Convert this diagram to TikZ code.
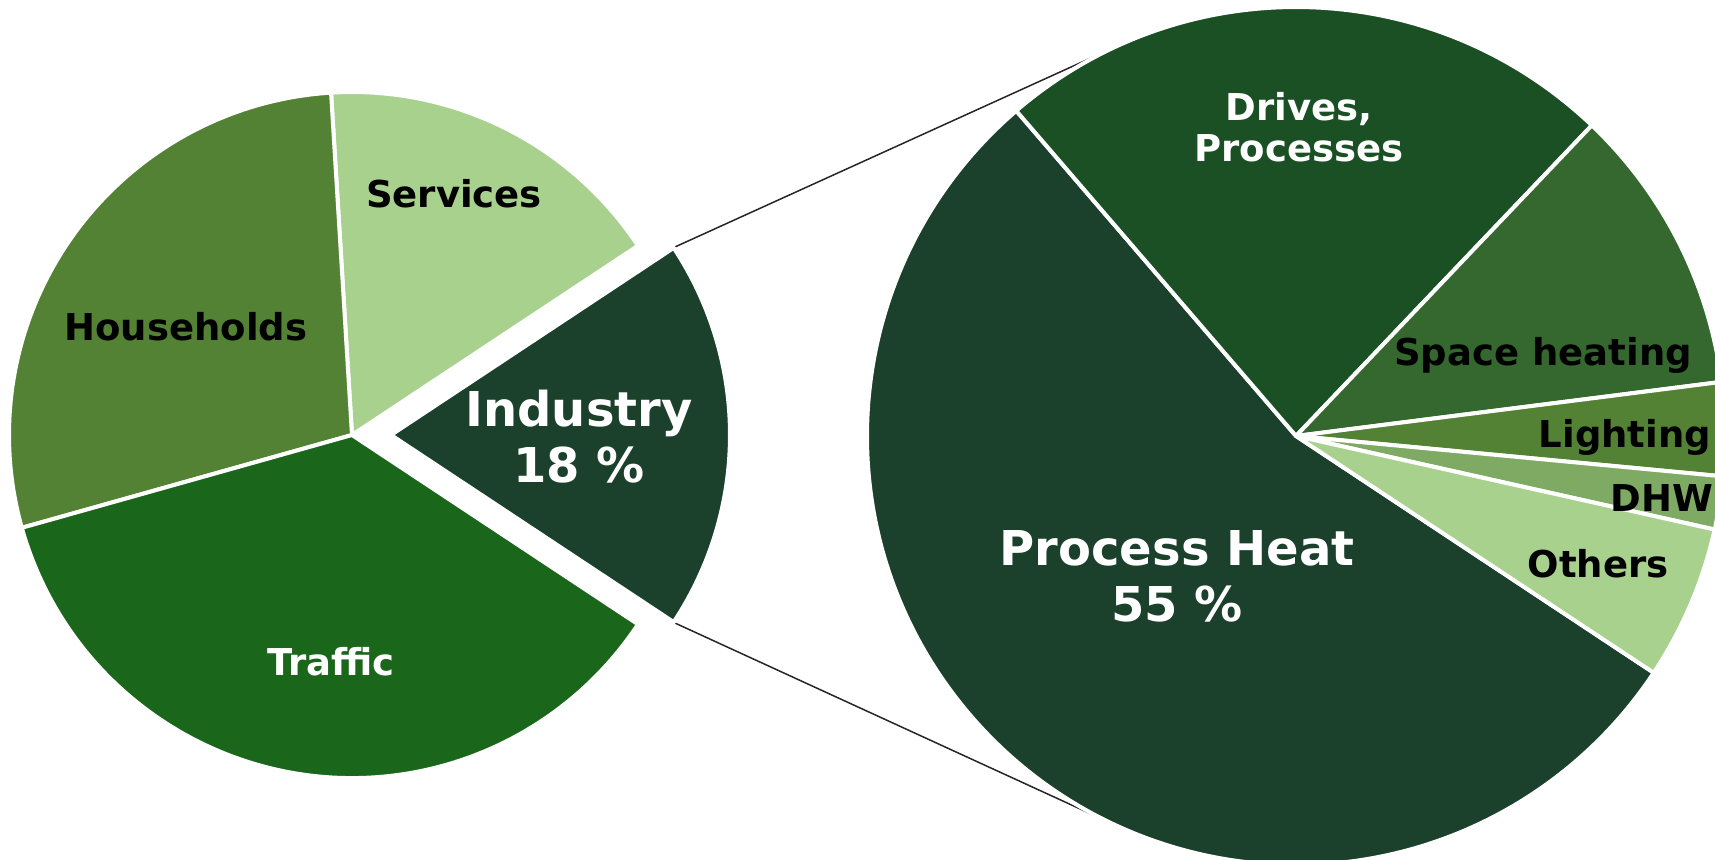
\documentclass[tikz,border=0pt]{standalone}
\usepackage{fontspec}
\setmainfont{DejaVu Sans}
\definecolor{hhgreen}{HTML}{548235}
\definecolor{svgreen}{HTML}{A9D18E}
\definecolor{trgreen}{HTML}{1A661A}
\definecolor{indgreen}{HTML}{1B402C}
\definecolor{drvgreen}{HTML}{1A5024}
\definecolor{spgreen}{HTML}{34682E}
\definecolor{dhwgreen}{HTML}{7FAA64}
\begin{document}
\begin{tikzpicture}[x=0.5pt, y=0.5pt, line join=round,
		font=\bfseries\fontsize{18.5pt}{20.5pt}\selectfont,
		slice/.style={fill=#1, draw=white, line width=2pt},
		big/.style={text=white, align=center, font=\bfseries\fontsize{24pt}{28pt}\selectfont},
		lbl/.style={anchor=base, inner sep=0pt}
		]
		\useasboundingbox (0,0) rectangle (1715,859);
		\clip (0,0) rectangle (1715,859);
		\coordinate (L) at (352,424);
		\coordinate (I) at (391,424);
		\coordinate (R) at (1296,423);
		% connector lines
		\coordinate (iTop) at ([shift={(33.5:341)}]I);
		\coordinate (iBot) at ([shift={(-33.5:341)}]I);
		\coordinate (rTop) at ([shift={(114.2:429)}]R);
		\coordinate (rBot) at ([shift={(-114.4:429)}]R);
		\draw[line width=0.75pt, black!85] (iTop) -- (rTop);
		\draw[line width=0.75pt, black!85] (iBot) -- (rBot);
		% left pie
		\filldraw[slice=svgreen] (L) -- ++(33.5:343) arc[start angle=33.5, end angle=93.5, radius=343] -- cycle;
		\filldraw[slice=hhgreen] (L) -- ++(93.5:343) arc[start angle=93.5, end angle=195.7, radius=343] -- cycle;
		\filldraw[slice=trgreen] (L) -- ++(195.7:343) arc[start angle=195.7, end angle=326.5, radius=343] -- cycle;
		\filldraw[slice=indgreen] (I) -- ++(-33.5:339) arc[start angle=-33.5, end angle=33.5, radius=339] -- cycle;
		% right pie
		\filldraw[slice=indgreen] (R) -- ++(130.7:429) arc[start angle=130.7, end angle=326.5, radius=429] -- cycle;
		\filldraw[slice=drvgreen] (R) -- ++(46.4:429) arc[start angle=46.4, end angle=130.7, radius=429] -- cycle;
		\filldraw[slice=spgreen] (R) -- ++(7.25:429) arc[start angle=7.25, end angle=46.4, radius=429] -- cycle;
		\filldraw[slice=hhgreen] (R) -- ++(-5.4:429) arc[start angle=-5.4, end angle=7.25, radius=429] -- cycle;
		\filldraw[slice=dhwgreen] (R) -- ++(-12.6:429) arc[start angle=-12.6, end angle=-5.4, radius=429] -- cycle;
		\filldraw[slice=svgreen] (R) -- ++(-33.5:429) arc[start angle=-33.5, end angle=-12.6, radius=429] -- cycle;
		% labels
		\node[lbl] (services) at (454,652) {Services};
		\node[lbl] (households) at (186,519) {Households};
		\node[lbl, text=white] (traffic) at (331,184) {Traffic};
		\node[big] (industry) at (579,422.5) {Industry\\18 \%};
		\node[big] (procheat) at (1177,283) {Process Heat\\55 \%};
		\node[text=white, align=center] (drives) at (1299,732) {Drives,\\Processes};
		\node[lbl] (spaceheat) at (1543,494) {Space heating};
		\node[lbl] (lighting) at (1625,411.5) {Lighting};
		\node[lbl] (dhw) at (1662,348) {DHW};
		\node[lbl] (others) at (1598,282) {Others};
\end{tikzpicture}
\end{document}
